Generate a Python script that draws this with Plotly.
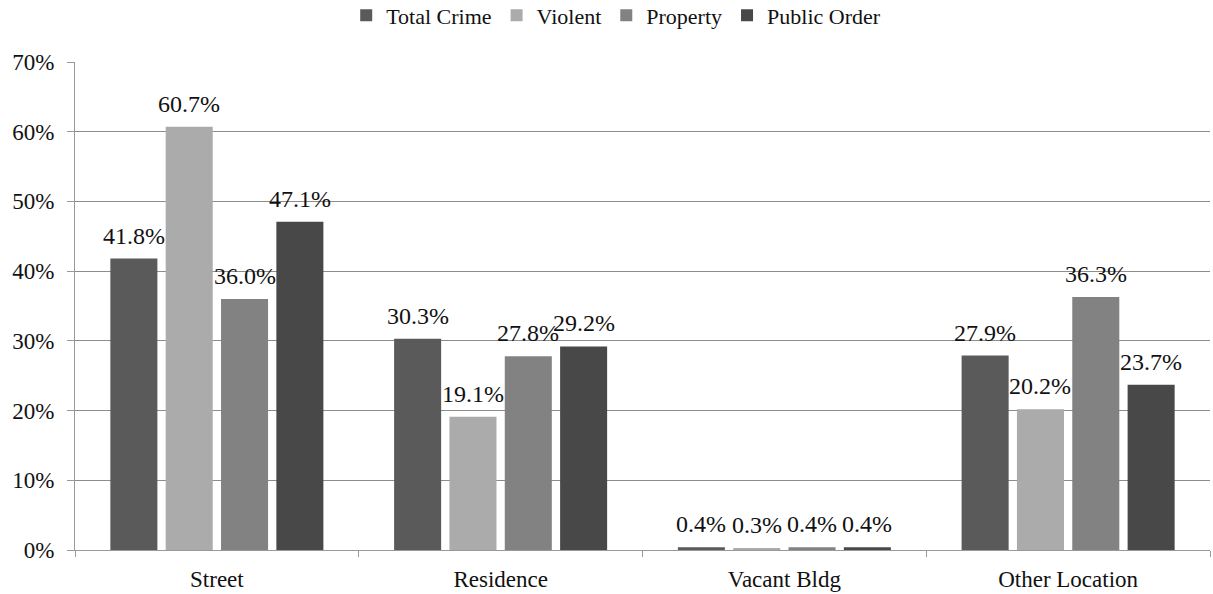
import plotly.graph_objects as go

categories = ["Street", "Residence", "Vacant Bldg", "Other Location"]
series_names = ["Total Crime", "Violent", "Property", "Public Order"]
total_crime = [41.8, 30.3, 0.4, 27.9]
violent = [60.7, 19.1, 0.3, 20.2]
property_crime = [36.0, 27.8, 0.4, 36.3]
public_order = [47.1, 29.2, 0.4, 23.7]
tick_vals = [0, 10, 20, 30, 40, 50, 60, 70]
tick_text = ["0%", "10%", "20%", "30%", "40%", "50%", "60%", "70%"]

colors = ["#5a5a5a", "#ababab", "#828282", "#484848"]
values = [total_crime, violent, property_crime, public_order]

font_family = "Liberation Serif"
BARGAP = 0.22
n_series = len(values)
slot = (1 - BARGAP) / n_series

fig = go.Figure()
for name, vals, col in zip(series_names, values, colors):
    fig.add_trace(go.Bar(
        x=categories, y=vals, name=name,
        marker=dict(color=col, line=dict(width=0)),
    ))

# value labels floating above each bar
annotations = []
for j, vals in enumerate(values):
    offset = (j - (n_series - 1) / 2) * slot
    for i, v in enumerate(vals):
        annotations.append(dict(
            x=i + offset, y=v, xref="x", yref="y",
            text=f"{v:.1f}%", showarrow=False,
            yanchor="bottom", yshift=8,
            font=dict(family=font_family, size=24, color="#111111"),
        ))

fig.update_layout(
    width=1213, height=594,
    margin=dict(l=75, r=3, t=62, b=44),
    paper_bgcolor="white", plot_bgcolor="white",
    barmode="group", bargap=BARGAP, bargroupgap=0.15,
    font=dict(family=font_family, size=23, color="#111111"),
    annotations=annotations,
    legend=dict(orientation="h", xref="container", x=0.508, xanchor="center",
                yref="container", y=0.974, yanchor="middle",
                font=dict(family=font_family, size=22), itemwidth=30,
                traceorder="normal"),
    xaxis=dict(showline=True, linecolor="#999999", linewidth=1,
               ticks="outside", tickson="boundaries", ticklen=6, tickcolor="#999999",
               showgrid=False, ticklabelstandoff=8,
               tickfont=dict(family=font_family, size=23)),
    yaxis=dict(range=[0, 70], tickvals=tick_vals, ticktext=tick_text,
               showline=True, linecolor="#999999", linewidth=1,
               ticks="outside", ticklen=7, tickcolor="#999999",
               showgrid=True, gridcolor="#8c8c8c", gridwidth=1,
               zeroline=False, ticklabelstandoff=8,
               tickfont=dict(family=font_family, size=23)),
)

fig.write_html("out.html")
